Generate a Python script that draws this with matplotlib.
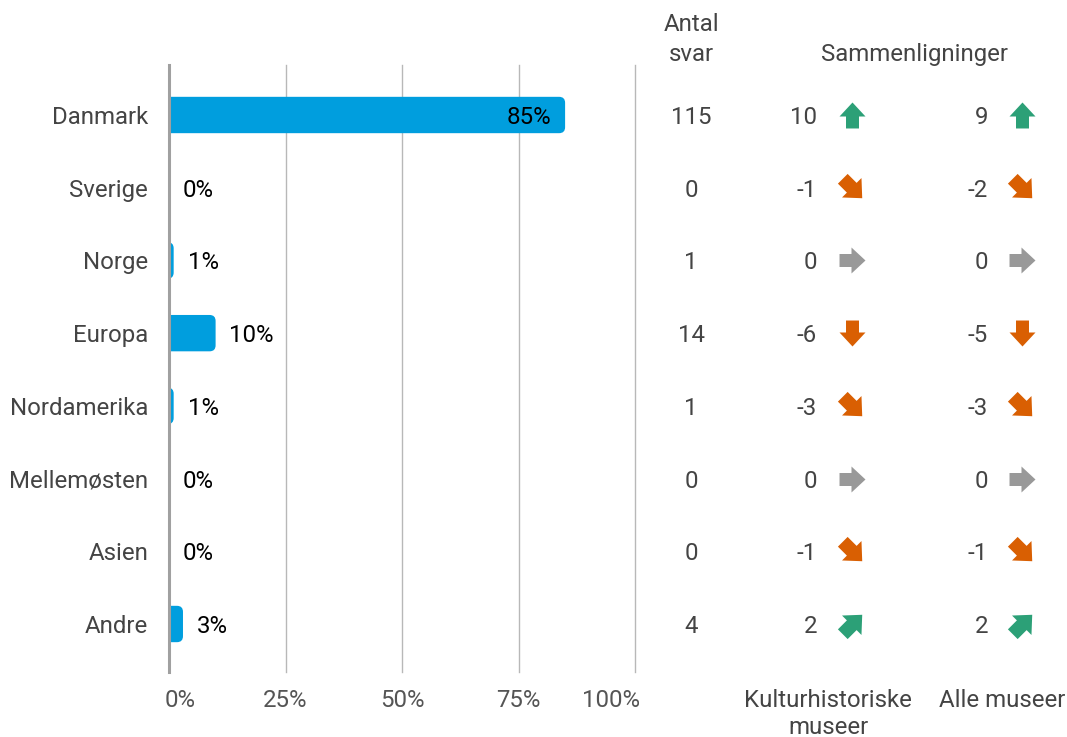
import matplotlib
matplotlib.use("Agg")
import matplotlib.pyplot as plt
import numpy as np
from matplotlib.patches import FancyBboxPatch
from matplotlib.path import Path
from matplotlib.transforms import blended_transform_factory

plt.rcParams['font.family'] = ['Roboto', 'DejaVu Sans']

categories = ["Danmark", "Sverige", "Norge", "Europa", "Nordamerika", "Mellemøsten", "Asien", "Andre"]
shares = [85, 0, 1, 10, 1, 0, 0, 3]
antal_svar = [115, 0, 1, 14, 1, 0, 0, 4]
diff_kultur = [10, -1, 0, -6, -3, 0, -1, 2]
diff_alle = [9, -2, 0, -5, -3, 0, -1, 2]
xticks = [0, 25, 50, 75, 100]
xticklabels = ["0%", "25%", "50%", "75%", "100%"]

FS = 17.3
W, H = 1067, 737
fig = plt.figure(figsize=(W / 100, H / 100), dpi=100)
ax = fig.add_axes([169 / W, 1 - 672 / H, (635 - 169) / W, (672 - 65) / H])

n = len(categories)
spacing = (624 - 115) / (n - 1)
ax.set_ylim(n - 1 + (672 - 624) / spacing, -(115 - 65) / spacing)
ax.set_xlim(0, 100)

BAR = "#009EDE"
px_per_x = 466 / 100
px_per_y = spacing
r_px = 6
rx = r_px / px_per_x
ry = r_px / px_per_y
for i, v in enumerate(shares):
    if v > 0:
        p = FancyBboxPatch((-5, i - 0.25), v + 5, 0.5,
                           boxstyle=f"round,pad=0,rounding_size={rx}",
                           mutation_aspect=ry / rx, fc=BAR, ec="none", zorder=3)
        ax.add_patch(p)
    if v >= 50:
        ax.annotate(f"{v}%", (v, i), xytext=(-10, 0), textcoords="offset points",
                    ha="right", va="center_baseline", fontsize=FS, color="black", zorder=4)
    else:
        ax.annotate(f"{v}%", (v, i), xytext=(10, 0), textcoords="offset points",
                    ha="left", va="center_baseline", fontsize=FS, color="black", zorder=4)

for s in ax.spines.values():
    s.set_visible(False)
ax.set_xticks([])
ax.set_yticks([])
for t in xticks[1:]:
    ax.axvline(t, color="#B8B8B8", lw=1, zorder=1, clip_on=False)
ax.axvline(0, color="#A0A0A0", lw=2.2, zorder=5, clip_on=False)

lab_col = "#444444"
for i, c in enumerate(categories):
    ax.annotate(c, (0, i), xytext=(-15, 0), textcoords="offset points",
                ha="right", va="center_baseline", fontsize=FS, color=lab_col)

# x tick labels
ty = blended_transform_factory(ax.transData, fig.transFigure)
for t, l in zip(xticks, xticklabels):
    ha = "left" if t == 0 else ("right" if t == 100 else "center")
    xx = t - 0.9 if t == 0 else (t + 1.0 if t == 100 else t)
    ax.text(xx, 1 - 698 / H, l, transform=ty, ha=ha, va="center_baseline",
            fontsize=FS, color="#555555")

# right columns
tr = blended_transform_factory(fig.transFigure, ax.transData)
for i, v in enumerate(antal_svar):
    ax.text(691 / W, i, str(v), transform=tr, ha="center", va="center_baseline",
            fontsize=FS, color=lab_col)

GREEN, ORANGE, GRAY = "#2CA077", "#D95F02", "#999999"
up = np.array([(0, 13), (13, -1), (6.5, -1), (6.5, -13), (-6.5, -13), (-6.5, -1), (-13, -1), (0, 13)], float)

def arrow_marker(angle):
    a = np.deg2rad(angle)
    R = np.array([[np.cos(a), -np.sin(a)], [np.sin(a), np.cos(a)]])
    v = up @ R.T
    return Path(v, closed=True)

def style(d):
    if d >= 5:
        return 0, GREEN, 18.7
    if d > 0:
        return -45, GREEN, 21
    if d == 0:
        return -90, GRAY, 18.7
    if d > -5:
        return -135, ORANGE, 21
    return 180, ORANGE, 18.7

for vals, xnum, xarr in [(diff_kultur, 817, 852), (diff_alle, 988, 1022)]:
    for i, d in enumerate(vals):
        ax.text(xnum / W, i, str(d), transform=tr, ha="right", va="center_baseline",
                fontsize=FS, color=lab_col)
        ang, col, ms = style(d)
        ax.plot([xarr / W], [i], transform=tr, marker=arrow_marker(ang), ms=ms,
                color=col, mec=col, mew=0, ls="none", clip_on=False)

kw = dict(ha="center", va="center_baseline", fontsize=FS, color=lab_col)
fig.text(691 / W, 1 - 22 / H, "Antal", **kw)
fig.text(691 / W, 1 - 52 / H, "svar", **kw)
fig.text(915 / W, 1 - 52 / H, "Sammenligninger", **kw)
fig.text(828 / W, 1 - 698 / H, "Kulturhistoriske", **kw)
fig.text(828 / W, 1 - 725 / H, "museer", **kw)
fig.text(1002 / W, 1 - 698 / H, "Alle museer", **kw)

fig.savefig("out.png", dpi=100)
